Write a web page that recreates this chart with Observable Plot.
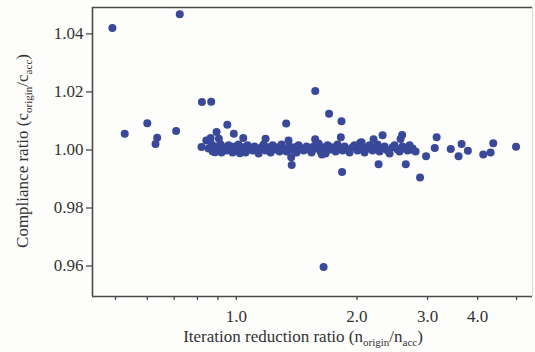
<!DOCTYPE html>
<html>
<head>
<meta charset="utf-8">
<script src="https://cdn.jsdelivr.net/npm/d3@7"></script>
<script src="https://cdn.jsdelivr.net/npm/@observablehq/plot@0.6"></script>
<style>
  html, body { margin: 0; padding: 0; background: #fdfdfb; }
  #chart { width: 535px; height: 352px; }
  #chart svg text { font-family: 'Liberation Serif', 'DejaVu Serif', serif; }
</style>
</head>
<body>
<div id="chart"></div>
<script>
// Iteration reduction ratio (n_origin / n_acc) — x values
const iterRatio = [
  0.491, 0.723, 0.527, 0.600, 0.635, 0.629, 0.708, 0.821, 0.866, 0.819,
  0.842, 0.893, 0.950, 0.986, 0.885, 1.041, 1.183, 1.332, 1.350, 1.371,
  1.375, 1.574, 1.704, 1.830, 1.573, 1.823, 1.836, 1.651, 2.200, 2.317,
  2.592, 2.569, 2.264, 2.647, 2.873, 2.747, 2.974, 3.160, 3.126, 3.427,
  3.647, 3.584, 3.781, 4.130, 4.307, 4.374, 4.986, 1.021, 0.905, 0.863,
  2.038, 1.635, 2.053,
  // dense band
  0.853, 0.868, 0.873, 0.888, 0.903, 0.914, 0.919, 0.935, 0.946, 0.957,
  0.968, 0.979, 0.990, 1.002, 1.013, 1.025, 1.043, 1.055, 1.067, 1.079,
  1.098, 1.111, 1.124, 1.137, 1.156, 1.170, 1.183, 1.204, 1.218, 1.232,
  1.246, 1.268, 1.282, 1.297, 1.320, 1.335, 1.358, 1.374, 1.398, 1.414,
  1.430, 1.455, 1.472, 1.497, 1.515, 1.541, 1.559, 1.586, 1.604, 1.623,
  1.651, 1.670, 1.690, 1.719, 1.739, 1.769, 1.789, 1.810, 1.841, 1.863,
  1.895, 1.917, 1.950, 1.972, 2.006, 2.030, 2.065, 2.089, 2.125, 2.149,
  2.187, 2.213, 2.251, 2.277, 2.317, 2.344, 2.384, 2.412, 2.454, 2.482,
  2.525, 2.554, 2.598, 2.628, 2.674, 2.705, 2.752, 2.800
];
// Compliance ratio (c_origin / c_acc) — y values
const complianceRatio = [
  1.0420, 1.0468, 1.0056, 1.0092, 1.0042, 1.0021, 1.0065, 1.0165, 1.0166, 1.0010,
  1.0033, 1.0062, 1.0087, 1.0056, 0.9992, 1.0041, 1.0039, 1.0091, 1.0033, 0.9975,
  0.9948, 1.0203, 1.0125, 1.0099, 1.0037, 1.0044, 0.9924, 0.9597, 1.0037, 1.0051,
  1.0052, 1.0038, 0.9951, 0.9951, 0.9905, 1.0001, 0.9978, 1.0044, 1.0007, 1.0003,
  1.0021, 0.9978, 0.9997, 0.9984, 0.9991, 1.0023, 1.0011, 0.9989, 1.0039, 1.0041,
  1.0025, 0.9984, 1.0027,
  // dense band
  1.0005, 1.0019, 0.9995, 1.0012, 1.0002, 1.0019, 0.9991, 1.0009, 0.9998, 1.0016,
  1.0005, 0.9991, 1.0012, 1.0002, 1.0019, 0.9998, 1.0009, 0.9991, 1.0016, 1.0005,
  0.9998, 1.0012, 1.0002, 0.9988, 1.0009, 1.0019, 0.9998, 1.0009, 0.9991, 1.0016,
  1.0002, 1.0009, 0.9995, 1.0019, 1.0005, 0.9995, 1.0012, 1.0002, 1.0009, 0.9991,
  1.0016, 1.0005, 0.9998, 1.0012, 1.0002, 0.9991, 1.0012, 1.0005, 1.0022, 0.9995,
  1.0009, 0.9988, 1.0016, 1.0002, 1.0009, 0.9995, 1.0019, 1.0005, 0.9998, 1.0012,
  1.0002, 0.9991, 1.0009, 1.0016, 0.9998, 1.0005, 1.0012, 0.9991, 1.0005, 1.0016,
  0.9998, 1.0009, 1.0019, 0.9995, 1.0005, 1.0012, 0.9998, 0.9988, 1.0009, 1.0016,
  1.0002, 0.9995, 1.0012, 1.0005, 0.9998, 1.0016, 1.0005, 0.9995
];
const xDomain = [0.438, 5.48];
const yDomain = [0.9495, 1.0491];
const xTickMarks = [0.5, 0.6, 0.7, 0.8, 0.9, 1, 2, 3, 4, 5];
const xTickLabels = [1, 2, 3, 4];
const yTicks = [0.96, 0.98, 1.00, 1.02, 1.04];

const points = iterRatio.map((x, i) => ({x, y: complianceRatio[i]}));

const axisColor = "#4a4a4a";
const font = "'Liberation Serif', 'DejaVu Serif', serif";

const chart = Plot.plot({
  width: 535,
  height: 352,
  marginLeft: 92,
  marginRight: 3,
  marginTop: 7,
  marginBottom: 56,
  x: {type: "log", domain: xDomain},
  y: {domain: yDomain},
  style: {fontFamily: font, fontSize: "17px", color: "#333", background: "transparent", overflow: "visible"},
  marks: [
    Plot.ruleX([xDomain[1]], {stroke: "#d8d8d8", strokeWidth: 1}),
    Plot.ruleY([yDomain[1]], {stroke: axisColor, strokeWidth: 1.5}),
    Plot.axisY({ticks: yTicks, tickFormat: d => d.toFixed(2), tickSize: 6, tickPadding: 3,
      label: null, stroke: axisColor, strokeWidth: 1.3, fontSize: 17, fontFamily: font, fill: "#333"}),
    Plot.axisX({ticks: xTickMarks, tickFormat: () => "", tickSize: 4, label: null,
      stroke: axisColor, strokeWidth: 1.3}),
    Plot.axisX({ticks: xTickLabels, tickFormat: d => d.toFixed(1), tickSize: 0, tickPadding: 13,
      label: null, fontSize: 17, fontFamily: font, fill: "#333"}),
    Plot.ruleX([xDomain[0]], {stroke: axisColor, strokeWidth: 1.6}),
    Plot.ruleY([yDomain[0]], {stroke: axisColor, strokeWidth: 1.6}),
    Plot.dot(points, {x: "x", y: "y", r: 4, fill: "#3a4899", stroke: "none"})
  ]
});

const svg = d3.select(chart);
// X axis title with subscripts
const xt = svg.append("text")
  .attr("x", 303).attr("y", 342)
  .attr("text-anchor", "middle")
  .attr("font-family", font).attr("font-size", 17).attr("fill", "#333");
xt.append("tspan").text("Iteration reduction ratio (n");
xt.append("tspan").attr("font-size", 11).attr("dy", 4).text("origin");
xt.append("tspan").attr("dy", -4).text("/n");
xt.append("tspan").attr("font-size", 11).attr("dy", 4).text("acc");
xt.append("tspan").attr("dy", -4).text(")");

// Y axis title with subscripts
const yt = svg.append("text")
  .attr("transform", "translate(28,151) rotate(-90)")
  .attr("text-anchor", "middle")
  .attr("font-family", font).attr("font-size", 17).attr("fill", "#333");
yt.append("tspan").text("Compliance ratio (c");
yt.append("tspan").attr("font-size", 11).attr("dy", 4).text("origin");
yt.append("tspan").attr("dy", -4).text("/c");
yt.append("tspan").attr("font-size", 11).attr("dy", 4).text("acc");
yt.append("tspan").attr("dy", -4).text(")");

document.getElementById("chart").appendChild(chart);
</script>
</body>
</html>
